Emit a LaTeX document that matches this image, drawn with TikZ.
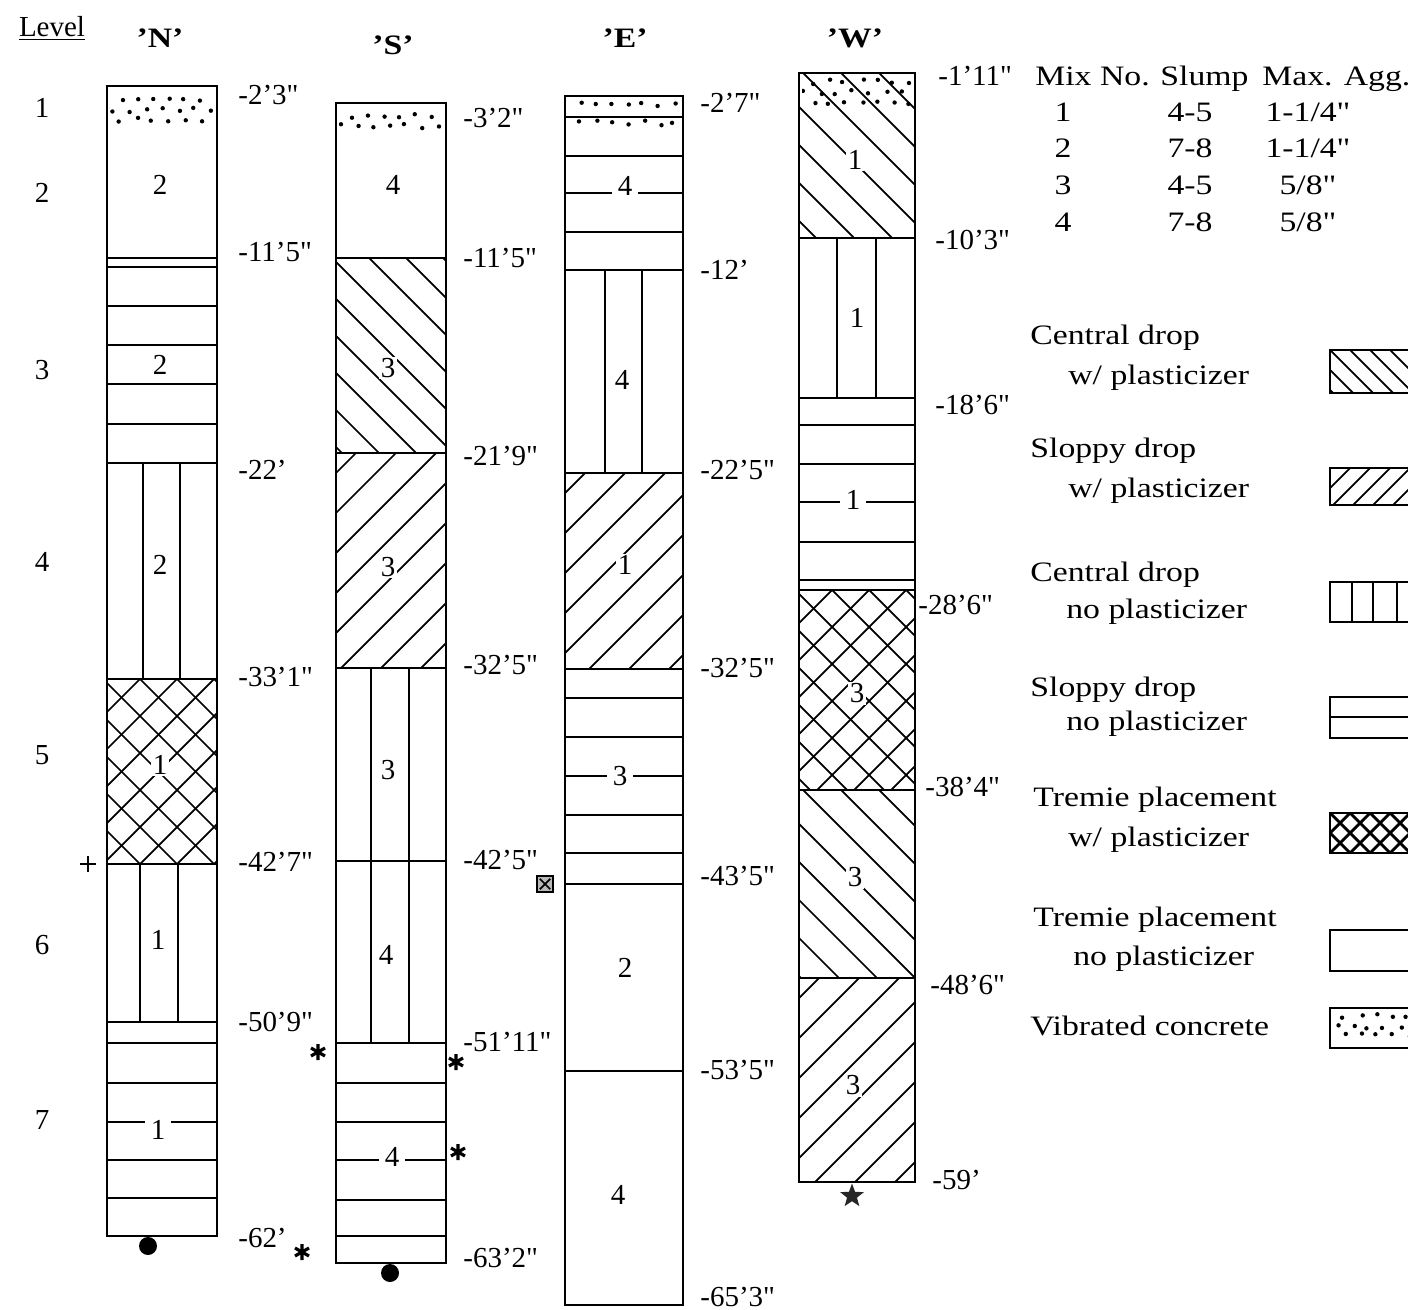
\documentclass[tikz,border=0pt]{standalone}
\usepackage{fontspec}
\setmainfont{Liberation Serif}[Ligatures=TeXOff]
\newfontfamily\legfont{Liberation Serif}[FakeStretch=1.2,Ligatures=TeXOff]
\newcommand{\inch}{\char34\relax}
\usetikzlibrary{positioning,shapes.geometric}
\tikzset{
  col/.style={line width=1.4pt},
  sep/.style={line width=1.1pt},
  hatchln/.style={line width=1pt},
  mixno/.style={fill=white,inner sep=3pt,font=\fontsize{16.5}{18}\selectfont},
  depth/.style={anchor=west,inner sep=0pt,font=\fontsize{16.5}{18}\selectfont},
  lvl/.style={font=\fontsize{16.5}{18}\selectfont},
  hdr/.style={font=\legfont\bfseries\fontsize{16}{18}\selectfont},
  legtxt/.style={anchor=base west,inner sep=0pt,font=\legfont\fontsize{16}{18}\selectfont},
  swatch/.style={line width=1.6pt},
  astmark/.pic={\draw[line width=1.8pt] (0,-8) -- (0,8) (-7,-4) -- (7,4) (-7,4) -- (7,-4);},
}
% hatching inside a box: x1,y1,x2,y2,spacing
\newcommand{\hatchdn}[5]{%
  \begin{scope}
    \clip (#1,#2) rectangle (#3,#4);
    \foreach \i in {0,...,30} {
      \pgfmathsetmacro\hx{#1-300+\i*#5}
      \draw[hatchln] (\hx,#2) -- ++(500,500);
    }
  \end{scope}}
\newcommand{\hatchup}[5]{%
  \begin{scope}
    \clip (#1,#2) rectangle (#3,#4);
    \foreach \i in {0,...,30} {
      \pgfmathsetmacro\hx{#1-300+\i*#5}
      \draw[hatchln] (\hx,#2) -- ++(-500,500);
    }
  \end{scope}}
% vibrated concrete dots
\newcommand{\vibdots}[4]{%
  \begin{scope}
    \clip (#1+3,#2) rectangle (#3-3,#4);
    \pgfmathtruncatemacro\nr{(#4-#2)/10}
    \foreach \r in {1,...,\nr} {
      \foreach \k in {0,...,8} {
        \pgfmathsetmacro\dx{#1+6+\k*16+mod(\r,2)*8+rand*3}
        \pgfmathsetmacro\dy{#2+\r*10-4+rand*2.5}
        \fill (\dx,\dy) circle[radius=2.2];
      }}
  \end{scope}}

\begin{document}
\begin{tikzpicture}[x=0.02cm,y=-0.02cm]
  \useasboundingbox (0,0) rectangle (1408,1310);
  \pgfmathsetseed{11}

  % headings
  \node[lvl] (lvlhd) at (52,28) {\underline{Level}};
  \node[hdr] (hN) at (160,38) {’N’};
  \node[hdr] (hS) at (393,45) {’S’};
  \node[hdr] (hE) at (625,38) {’E’};
  \node[hdr] (hW) at (855,38) {’W’};
  \foreach \n/\y in {1/108,2/193,3/370,4/562,5/755,6/945,7/1120}
    \node[lvl] (lv\n) at (42,\y) {\n};

  % column N
  \vibdots{107}{94}{217}{127}
  \hatchdn{107}{679}{217}{864}{37}
  \hatchup{107}{679}{217}{864}{37}
  \foreach \y in {258,267,306,345,384,424,463,679,864,1022,1043,1083,1122,1160,1198}
    \draw[sep] (107,\y) -- (217,\y);
  \foreach \x in {143,180} \draw[sep] (\x,463) -- (\x,679);
  \foreach \x in {140,178} \draw[sep] (\x,864) -- (\x,1022);
  \draw[col] (107,86) rectangle (217,1236);
  \node[mixno] (n1) at (160,185) {2};
  \node[mixno] (n2) at (160,365) {2};
  \node[mixno] (n3) at (160,565) {2};
  \node[mixno,inner sep=1pt] (n4) at (160,765) {1};
  \node[mixno] (n5) at (158,940) {1};
  \node[mixno] (n6) at (158,1130) {1};
  \foreach \t/\y [count=\i] in {-2’3\inch/95,-11’5\inch/252,-22’/470,-33’1\inch/677,-42’7\inch/862,-50’9\inch/1022,-62’/1238}
    \node[depth] (dN\i) at (238,\y) {\t};

  % column S
  \vibdots{336}{110}{446}{136}
  \hatchdn{336}{258}{446}{453}{37}
  \hatchup{336}{453}{446}{668}{40}
  \foreach \y in {258,453,668,861,1043,1083,1122,1160,1200,1236}
    \draw[sep] (336,\y) -- (446,\y);
  \foreach \x in {371,409} \draw[sep] (\x,668) -- (\x,1043);
  \draw[col] (336,103) rectangle (446,1263);
  \node[mixno] (s1) at (393,185) {4};
  \node[mixno,inner sep=1pt] (s2) at (388,368) {3};
  \node[mixno,inner sep=1pt] (s3) at (388,567) {3};
  \node[mixno] (s4) at (388,770) {3};
  \node[mixno] (s5) at (386,955) {4};
  \node[mixno] (s6) at (392,1157) {4};
  \foreach \t/\y [count=\i] in {-3’2\inch/118,-11’5\inch/258,-21’9\inch/456,-32’5\inch/665,-42’5\inch/860,-51’11\inch/1042,-63’2\inch/1258}
    \node[depth] (dS\i) at (463,\y) {\t};

  % column E
  \vibdots{565}{99}{683}{113}
  \vibdots{565}{117}{683}{131}
  \hatchup{565}{473}{683}{669}{40}
  \foreach \y in {117,156,193,232,270,473,669,698,737,776,815,853,884,1071}
    \draw[sep] (565,\y) -- (683,\y);
  \foreach \x in {605,642} \draw[sep] (\x,270) -- (\x,473);
  \draw[col] (565,96) rectangle (683,1305);
  \node[mixno] (e1) at (625,186) {4};
  \node[mixno] (e2) at (622,380) {4};
  \node[mixno,inner sep=1pt] (e3) at (625,565) {1};
  \node[mixno] (e4) at (620,776) {3};
  \node[mixno] (e5) at (625,968) {2};
  \node[mixno] (e6) at (618,1195) {4};
  \foreach \t/\y [count=\i] in {-2’7\inch/103,-12’/270,-22’5\inch/470,-32’5\inch/668,-43’5\inch/876,-53’5\inch/1070,-65’3\inch/1297}
    \node[depth] (dE\i) at (700,\y) {\t};

  % column W
  \hatchdn{799}{73}{915}{238}{38}
  \vibdots{799}{76}{915}{112}
  \hatchdn{799}{590}{915}{790}{37}
  \hatchup{799}{590}{915}{790}{37}
  \hatchdn{799}{790}{915}{978}{38}
  \hatchup{799}{978}{915}{1182}{40}
  \foreach \y in {238,398,425,464,502,542,580,590,790,978}
    \draw[sep] (799,\y) -- (915,\y);
  \foreach \x in {837,876} \draw[sep] (\x,238) -- (\x,398);
  \draw[col] (799,73) rectangle (915,1182);
  \node[mixno,inner sep=1pt] (w1) at (855,160) {1};
  \node[mixno] (w2) at (857,318) {1};
  \node[mixno] (w3) at (853,500) {1};
  \node[mixno,inner sep=1pt] (w4) at (857,693) {3};
  \node[mixno,inner sep=1pt] (w5) at (855,877) {3};
  \node[mixno,inner sep=1pt] (w6) at (853,1085) {3};
  \foreach \t/\x/\y [count=\i] in {-1’11\inch/938/76,-10’3\inch/935/240,-18’6\inch/935/405,-28’6\inch/918/605,-38’4\inch/925/787,-48’6\inch/930/985,-59’/932/1180}
    \node[depth] (dW\i) at (\x,\y) {\t};

  % markers
  \draw[line width=1.4pt] (80,864) -- (96,864) (88,856) -- (88,872);
  \fill (148,1246) circle[radius=9];
  \fill (390,1273) circle[radius=9];
  \pic at (318,1052) {astmark};
  \pic at (456,1062) {astmark};
  \pic at (458,1152) {astmark};
  \pic at (302,1252) {astmark};
  \node[draw,line width=0.8pt,fill=gray!55,minimum size=0.32cm,inner sep=0pt] (bx) at (545,884) {};
  \draw[line width=1pt] ([shift={(2pt,-2pt)}]bx.north west) -- ([shift={(-2pt,2pt)}]bx.south east)
    ([shift={(-2pt,-2pt)}]bx.north east) -- ([shift={(2pt,2pt)}]bx.south west);
  \node[star,star points=5,star point ratio=2.4,fill=black!85,minimum size=0.5cm,inner sep=0pt] (st) at (852,1196) {};

  % mix table
  \node[legtxt] (tmix) at (1035,86) {Mix No.};
  \node[legtxt] (tslp) at (1160,86) {Slump};
  \node[legtxt] (tagg) at (1262,86) {Max. Agg.};
  \foreach \m/\s/\a/\y in {1/4-5/1-1\slash 4\inch/112,2/7-8/1-1\slash 4\inch/148,3/4-5/5\slash 8\inch/185,4/7-8/5\slash 8\inch/222} {
    \node[font=\legfont\fontsize{16}{18}\selectfont] (m\m) at (1063,\y) {\m};
    \node[font=\legfont\fontsize{16}{18}\selectfont] (sl\m) at (1190,\y) {\s};
    \node[font=\legfont\fontsize{16}{18}\selectfont] (ag\m) at (1308,\y) {\a};
  }

  % legend
  \node[legtxt] (l1a) at (1030,345) {Central drop};
  \node[legtxt] (l1b) at (1068,385) {w/ plasticizer};
  \node[legtxt] (l2a) at (1030,458) {Sloppy drop};
  \node[legtxt] (l2b) at (1068,498) {w/ plasticizer};
  \node[legtxt] (l3a) at (1030,581) {Central drop};
  \node[legtxt] (l3b) at (1066,618) {no plasticizer};
  \node[legtxt] (l4a) at (1030,696) {Sloppy drop};
  \node[legtxt] (l4b) at (1066,730) {no plasticizer};
  \node[legtxt] (l5a) at (1033,806) {Tremie placement};
  \node[legtxt] (l5b) at (1068,846) {w/ plasticizer};
  \node[legtxt] (l6a) at (1033,926) {Tremie placement};
  \node[legtxt] (l6b) at (1073,965) {no plasticizer};
  \node[legtxt] (l7a) at (1030,1035) {Vibrated concrete};

  \begin{scope}
    \clip (0,0) rectangle (1408,1310);
    \hatchdn{1330}{350}{1440}{393}{20}
    \draw[swatch] (1330,350) rectangle (1440,393);
    \hatchup{1330}{468}{1440}{505}{20}
    \draw[swatch] (1330,468) rectangle (1440,505);
    \foreach \x in {1352,1373,1397} \draw[sep] (\x,582) -- (\x,622);
    \draw[swatch] (1330,582) rectangle (1440,622);
    \draw[sep] (1330,717) -- (1440,717);
    \draw[swatch] (1330,697) rectangle (1440,738);
    \begin{scope}[hatchln/.style={line width=1.6pt}]
      \hatchdn{1330}{813}{1440}{853}{20}
      \hatchup{1330}{813}{1440}{853}{20}
    \end{scope}
    \draw[swatch] (1330,813) rectangle (1440,853);
    \draw[swatch] (1330,930) rectangle (1440,971);
    \vibdots{1330}{1010}{1440}{1046}
    \draw[swatch] (1330,1008) rectangle (1440,1048);
  \end{scope}
\end{tikzpicture}
\end{document}
